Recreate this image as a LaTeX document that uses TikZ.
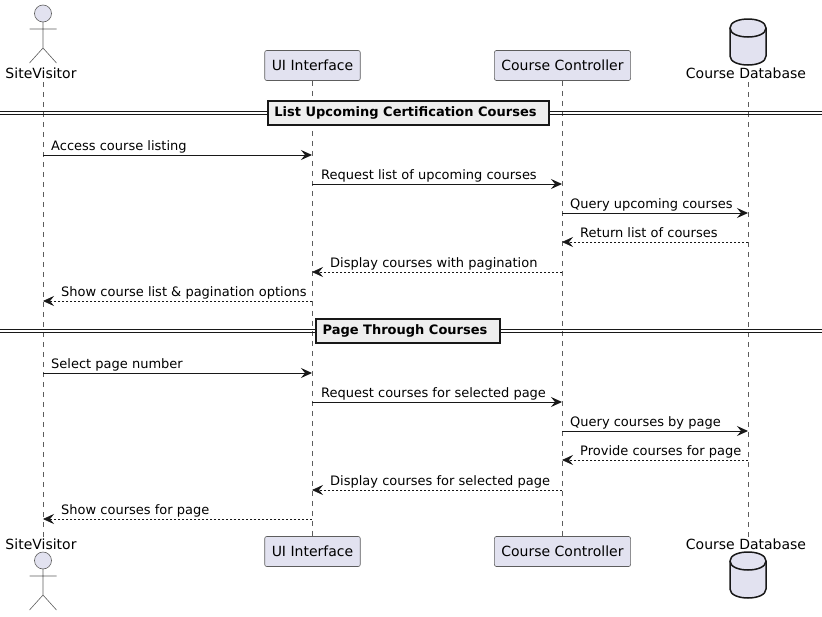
\documentclass[tikz,border=0pt]{standalone}
\usepackage{xcolor}
\usepackage{fontspec}
\setmainfont{DejaVu Sans}
\usetikzlibrary{positioning, arrows.meta}

\definecolor{partfill}{HTML}{E2E2F0}
\definecolor{linedark}{HTML}{181818}
\definecolor{dividerfill}{HTML}{EEEEEE}

\begin{document}
\begin{tikzpicture}[
    x=1pt, y=-1pt,
    every node/.style={font=\fontsize{13}{15}\selectfont},
    partbox/.style={rectangle, rounded corners=2pt, draw=linedark!70, fill=partfill, line width=0.6pt, minimum height=30pt, inner xsep=7pt, inner ysep=0pt, font=\fontsize{14}{16}\selectfont},
    partlabel/.style={inner sep=0pt, text height=10pt, text depth=3pt, font=\fontsize{14}{16}\selectfont},
    lifeline/.style={draw=linedark!70, line width=0.5pt, dash pattern=on 5pt off 5pt},
    msg/.style={draw=linedark, line width=1pt, -{Stealth[length=11pt, width=10pt, inset=4pt]}},
    reply/.style={msg, line width=0.7pt, dash pattern=on 2pt off 2pt},
    msglabel/.style={inner sep=0pt, text height=10pt, text depth=3pt},
    divider/.style={rectangle, draw=linedark, fill=dividerfill, line width=1.5pt, minimum height=24pt, inner xsep=6pt, inner ysep=0pt, text height=10pt, text depth=3pt, font=\fontsize{13}{15}\selectfont\bfseries},
    dividerline/.style={draw=linedark, line width=1pt},
    actorfig/.pic={
        \draw[draw=linedark!70, line width=0.6pt, fill=partfill] (0,-8.5) circle (8.5);
        \draw[draw=linedark!70, line width=0.6pt] (0,0) -- (0,26) (-13.5,7) -- (13.5,7) (-13.5,41) -- (0,26) -- (13.5,41);
    },
    dbfig/.pic={
        \draw[draw=linedark, line width=1.5pt, fill=partfill] (-18,9) .. controls (-18,-3) and (18,-3) .. (18,9) -- (18,37) .. controls (18,49) and (-18,49) .. (-18,37) -- cycle;
        \draw[draw=linedark, line width=1.5pt] (-18,9) .. controls (-18,21) and (18,21) .. (18,9);
    }
]
\useasboundingbox (0,0) rectangle (822,616);

% Participants
\node[partlabel] (visitorTop) at (41,74.5) {SiteVisitor};
\node[partbox] (uiTop) at (312.5,65.5) {UI Interface};
\node[partbox] (ctrlTop) at (562.5,65.5) {Course Controller};
\node[partlabel] (dbTop) at (746,74.5) {Course Database};
\node[partlabel] (visitorBot) at (41,545.5) {SiteVisitor};
\node[partbox] (uiBot) at (312.5,551.5) {UI Interface};
\node[partbox] (ctrlBot) at (562.5,551.5) {Course Controller};
\node[partlabel] (dbBot) at (746,545.5) {Course Database};

% Figures
\pic at (43,22) {actorfig};
\pic at (43,569) {actorfig};
\pic at (748,19) {dbfig};
\pic at (748,552) {dbfig};

% Lifelines
\coordinate (visitorA) at (43,82);
\coordinate (visitorB) at (43,537);
\coordinate (dbA) at (748,82);
\coordinate (dbB) at (748,537);
\draw[lifeline] (visitorA) -- (visitorB);
\draw[lifeline] (uiTop.south) -- (uiBot.north);
\draw[lifeline] (ctrlTop.south) -- (ctrlBot.north);
\draw[lifeline] (dbA) -- (dbB);

% Message rows
\foreach \n/\y in {1/155, 2/184, 3/213, 4/242, 5/272, 6/301, 7/373, 8/402, 9/431, 10/460, 11/490, 12/519} {
    \coordinate (v\n) at (43,\y);
    \coordinate (u\n) at (312,\y);
    \coordinate (c\n) at (562,\y);
    \coordinate (d\n) at (748,\y);
}

% Section dividers
\coordinate (leftA) at (0,111.4);
\coordinate (rightA) at (822,111.4);
\coordinate (leftB) at (0,114.6);
\coordinate (rightB) at (822,114.6);
\coordinate (leftC) at (0,329.4);
\coordinate (rightC) at (822,329.4);
\coordinate (leftD) at (0,332.6);
\coordinate (rightD) at (822,332.6);
\draw[dividerline] (leftA) -- (rightA);
\draw[dividerline] (leftB) -- (rightB);
\draw[dividerline] (leftC) -- (rightC);
\draw[dividerline] (leftD) -- (rightD);
\node[divider, minimum width=281pt] (listDiv) at (408.5,113) {List Upcoming Certification Courses\hspace*{6pt}};
\node[divider, minimum width=184pt] (pageDiv) at (408,331) {Page Through Courses\hspace*{6pt}};

% Arrows
\draw[msg] (v1) -- (u1);
\draw[msg] (u2) -- (c2);
\draw[msg] (c3) -- (d3);
\draw[reply] (d4) -- (c4);
\draw[reply] (c5) -- (u5);
\draw[reply] (u6) -- (v6);
\draw[msg] (v7) -- (u7);
\draw[msg] (u8) -- (c8);
\draw[msg] (c9) -- (d9);
\draw[reply] (d10) -- (c10);
\draw[reply] (c11) -- (u11);
\draw[reply] (u12) -- (v12);

% Labels
\node[msglabel, above right=1pt and 8pt of v1] (lab1) {Access course listing};
\node[msglabel, above right=1pt and 9pt of u2] (lab2) {Request list of upcoming courses};
\node[msglabel, above right=1pt and 8pt of c3] (lab3) {Query upcoming courses};
\node[msglabel, above right=1pt and 18pt of c4] (lab4) {Return list of courses};
\node[msglabel, above right=1pt and 18pt of u5] (lab5) {Display courses with pagination};
\node[msglabel, above right=1pt and 18pt of v6] (lab6) {Show course list \& pagination options};
\node[msglabel, above right=1pt and 8pt of v7] (lab7) {Select page number};
\node[msglabel, above right=1pt and 9pt of u8] (lab8) {Request courses for selected page};
\node[msglabel, above right=1pt and 8pt of c9] (lab9) {Query courses by page};
\node[msglabel, above right=1pt and 18pt of c10] (lab10) {Provide courses for page};
\node[msglabel, above right=1pt and 18pt of u11] (lab11) {Display courses for selected page};
\node[msglabel, above right=1pt and 18pt of v12] (lab12) {Show courses for page};

\end{tikzpicture}
\end{document}
